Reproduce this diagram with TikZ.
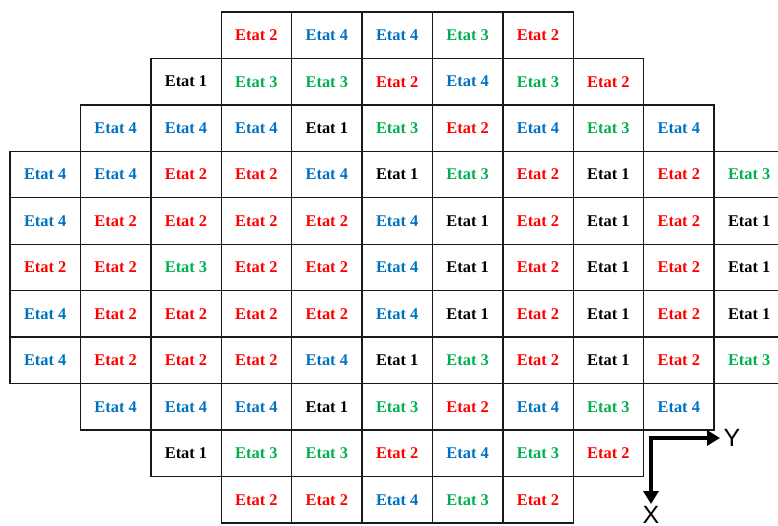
\documentclass[tikz,border=0pt]{standalone}
\usepackage{fontspec}
\setmainfont{Liberation Serif}
\setsansfont{Liberation Sans}
\usetikzlibrary{arrows.meta}
\definecolor{st1}{RGB}{0,0,0}
\definecolor{st2}{RGB}{255,0,0}
\definecolor{st3}{RGB}{0,176,80}
\definecolor{st4}{RGB}{0,112,192}
\begin{document}
\begin{tikzpicture}[x=1pt,y=-1pt,
  cell/.style={draw=black!90, line width=1.4pt, minimum width=70.4pt, minimum height=46.45pt,
    inner sep=0pt, font=\bfseries\fontsize{16.4}{18}\selectfont},
  axis/.style={line width=4pt, {Triangle[length=13pt,width=15pt]}-{Triangle[length=13pt,width=15pt]}},
  axlabel/.style={font=\sffamily\fontsize{25}{25}\selectfont, inner sep=0pt}]
\useasboundingbox (0,0) rectangle (778,525);
\foreach \r/\s/\l in {
  0/3/{2,4,4,3,2},
  1/2/{1,3,3,2,4,3,2},
  2/1/{4,4,4,1,3,2,4,3,4},
  3/0/{4,4,2,2,4,1,3,2,1,2,3},
  4/0/{4,2,2,2,2,4,1,2,1,2,1},
  5/0/{2,2,3,2,2,4,1,2,1,2,1},
  6/0/{4,2,2,2,2,4,1,2,1,2,1},
  7/0/{4,2,2,2,4,1,3,2,1,2,3},
  8/1/{4,4,4,1,3,2,4,3,4},
  9/2/{1,3,3,2,4,3,2},
  10/3/{2,2,4,3,2}}{
  \foreach \v [count=\i from 0] in \l {
    \pgfmathtruncatemacro\cc{\s+\i}
    \node[cell, text=st\v] (c\r-\cc) at ({45.2+\cc*70.4},{35.2+\r*46.45}) {Etat \v};
  }
}
\coordinate (o) at (651,438);
\coordinate (yend) at (720,438);
\coordinate (xend) at (651,504);
\draw[axis] (yend) -- (o) -- (xend);
\node[axlabel] (ylab) at (732,438) {Y};
\node[axlabel] (xlab) at (651,515) {X};
\end{tikzpicture}
\end{document}
